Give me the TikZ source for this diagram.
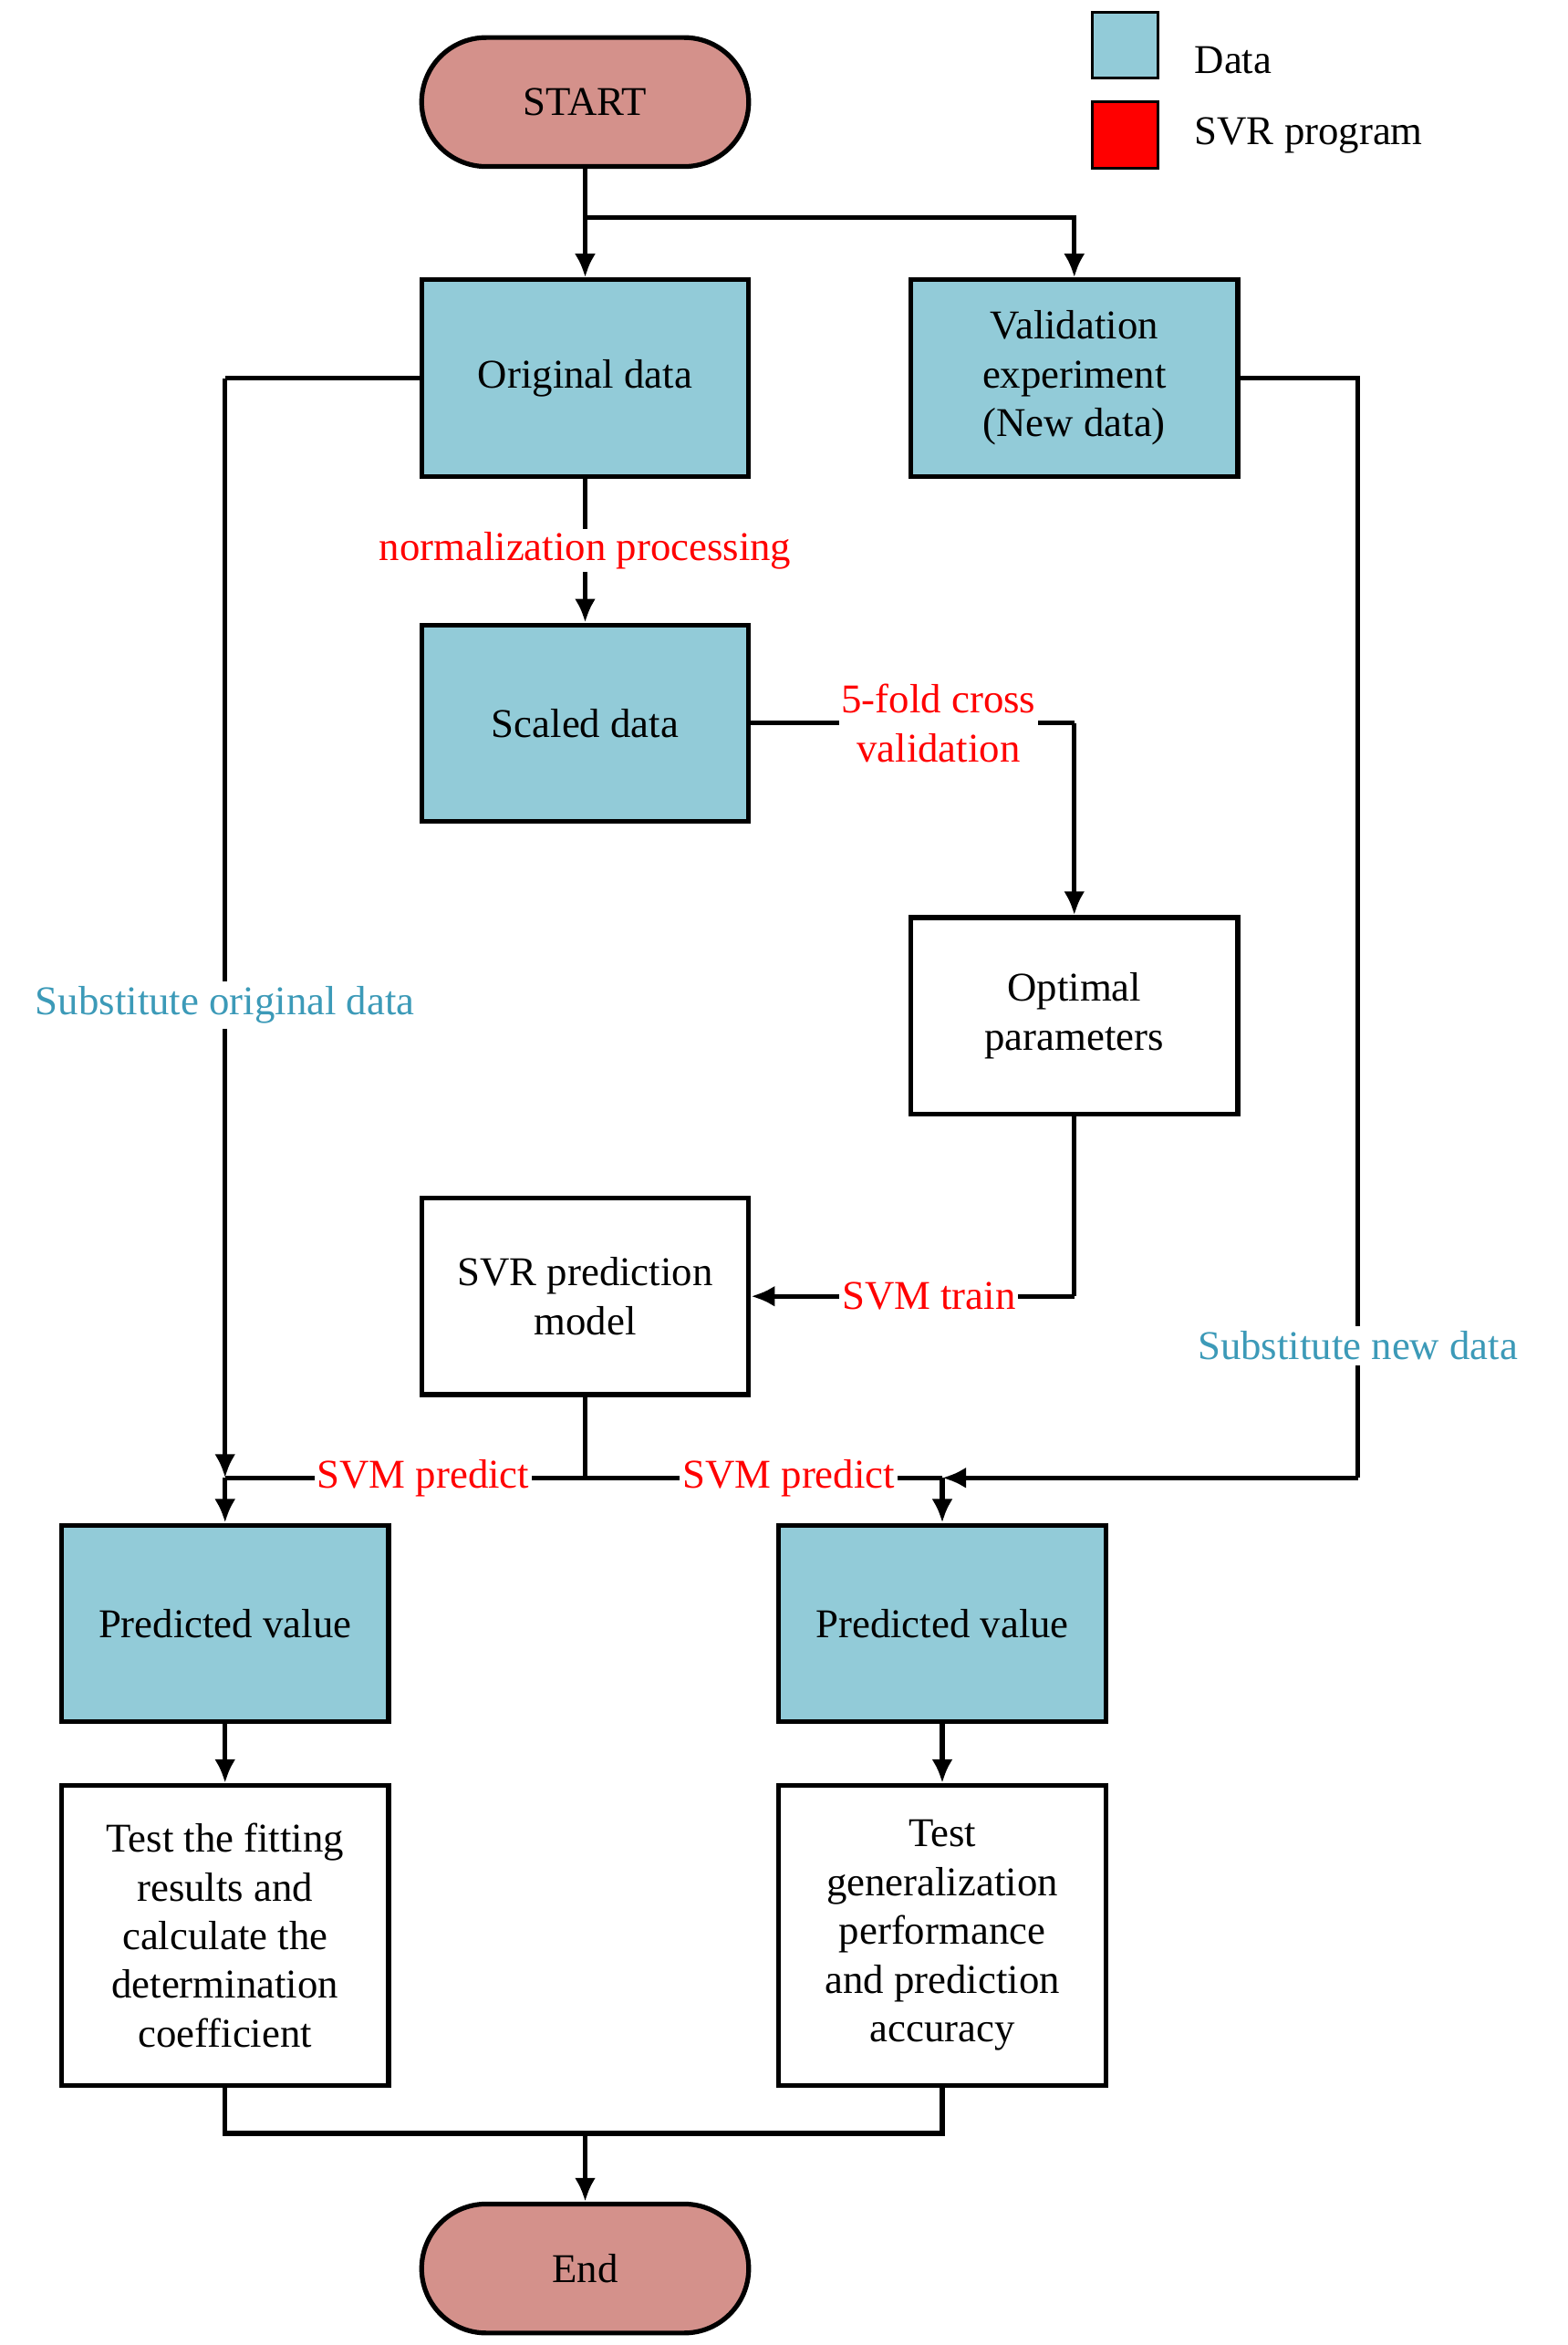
\documentclass[tikz,border=0pt]{standalone}
\usepackage{fontspec}
\setmainfont{Liberation Serif}
\usetikzlibrary{positioning,arrows.meta}
\definecolor{datablue}{HTML}{92CBD8}
\definecolor{startred}{HTML}{D4918B}
\definecolor{subteal}{HTML}{3C9AB8}
\newlength{\lwidth}
\setlength{\lwidth}{1.8pt}

\begin{document}
\begin{tikzpicture}[x=0.02cm,y=-0.02cm,
  every node/.style={font=\fontsize{15.5}{18.5}\selectfont},
  box/.style={draw,line width=\lwidth,minimum width=4.36cm,minimum height=2.62cm,align=center,inner sep=2pt},
  databox/.style={box,fill=datablue},
  term/.style={draw,line width=\lwidth,fill=startred,rounded corners=0.86cm,minimum width=4.36cm,minimum height=1.72cm},
  lbl/.style={fill=white,inner sep=1pt,text=red},
  sub/.style={fill=white,inner sep=2pt,text=subteal},
  conn/.style={line width=\lwidth},
  arr/.style={conn,-{Latex[length=9pt,width=8pt]}}]
  \useasboundingbox (0,0) rectangle (1045,1563);

  %% legend
  %% ------------------------------------
  \node[draw,line width=1pt,fill=datablue,minimum size=0.88cm] (legdata) at (750,30) {};
  \node[draw,line width=1pt,fill=red,minimum size=0.88cm] (legsvr) at (750,90) {};
  \node[anchor=west] (legdatat) at (790,40) {Data};
  \node[anchor=west] (legsvrt) at (790,90) {SVR program};

  %% nodes
  %% ------------------------------------
  \node[term] (start) at (390,68) {START};
  \node[databox] (orig) at (390,252) {Original data};
  \node[databox] (valid) at (716,252) {Validation\\experiment\\(New data)};
  \node[databox] (scaled) at (390,482) {Scaled data};
  \node[box] (optim) at (716,677) {Optimal\\parameters};
  \node[box] (model) at (390,864) {SVR prediction\\model};
  \node[databox] (predl) at (150,1082) {Predicted value};
  \node[databox] (predr) at (628,1082) {Predicted value};
  \node[box,minimum height=4cm] (testl) at (150,1290) {Test the fitting\\results and\\calculate the\\determination\\coefficient};
  \node[box,minimum height=4cm] (testr) at (628,1290) {Test\\generalization\\performance\\and prediction\\accuracy};
  \node[term] (end) at (390,1512) {End};

  %% connectors
  %% ------------------------------------
  \coordinate (split) at (390,145);
  \coordinate (crossr) at (716,482);
  \coordinate (trainr) at (716,864);
  \coordinate (fork) at (390,985);
  \coordinate (forkl) at (150,985);
  \coordinate (forkr) at (628,985);
  \coordinate (origl) at (150,252);
  \coordinate (vtop) at (905,252);
  \coordinate (vright) at (905,985);
  \draw[arr] (start) -- (orig);
  \draw[arr] (split) -| (valid);
  \draw[arr] (orig) -- node[lbl] (norm) {normalization processing} (scaled);
  \draw[conn] (scaled) -- node[lbl,align=center,pos=0.58] (cross) {5-fold cross\\validation} (crossr);
  \draw[arr] (crossr) -- (optim);
  \draw[conn] (optim) -- (trainr);
  \draw[arr] (trainr) -- node[lbl,pos=0.45] (train) {SVM train} (model);
  \draw[conn] (model) -- (fork);
  \draw[conn] (fork) -- node[lbl,pos=0.45] (predlt) {SVM predict} (forkl);
  \draw[conn] (fork) -- node[lbl,pos=0.57] (predrt) {SVM predict} (forkr);
  \draw[arr] (forkl) -- (predl);
  \draw[arr] (forkr) -- (predr);
  \draw[conn] (orig.west) -- (origl);
  \draw[arr] (origl) -- node[sub,pos=0.57] (subo) {Substitute original data} (forkl);
  \draw[conn] (valid.east) -- (vtop) -- node[sub,pos=0.88] (subn) {Substitute new data} (vright);
  \draw[arr] (vright) -- (forkr);
  \draw[arr] (predl) -- (testl);
  \draw[arr] (predr) -- (testr);
  \coordinate (join) at (390,1422);
  \draw[conn] (testl.south) |- (join) -| (testr.south);
  \draw[arr] (join) -- (end);
\end{tikzpicture}
\end{document}
